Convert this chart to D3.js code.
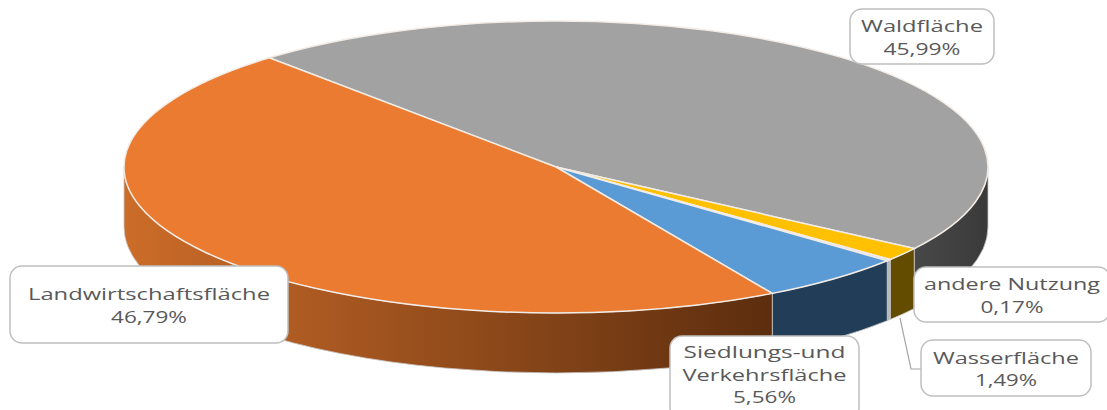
<!DOCTYPE html>
<html>
<head>
<meta charset="utf-8">
<script src="https://cdn.jsdelivr.net/npm/d3@7"></script>
<style>
  html, body { margin: 0; padding: 0; background: #fff; overflow: hidden; }
  text { font-family: "Open Sans", sans-serif; fill: #595959; }
</style>
</head>
<body>
<svg id="viz"></svg>
<script>
const categories = ["Waldfläche", "Wasserfläche", "andere Nutzung", "Siedlungs-und Verkehrsfläche", "Landwirtschaftsfläche"]
const values = [45.99, 1.49, 0.17, 5.56, 46.79]
const valueLabels = ["45,99%", "1,49%", "0,17%", "5,56%", "46,79%"]
const topColors = ["#a2a2a2", "#ffc000", "#c9d3df", "#5b9bd5", "#ea7b30"]
const wallColors = [
  ["#484848", "#3a3a3a"],
  ["#634b00", "#634b00"],
  ["#b4b8bd", "#b4b8bd"],
  ["#223d57", "#223d57"],
  ["#cc6c29", "#5c2d0e"],
]
// label boxes: category index, x, y, width, height, text lines, stretched text widths
const labelBoxes = [
  { i: 0, x: 850, y: 9, w: 144, h: 55, lines: ["Waldfläche"], tw: [122, 77] },
  { i: 4, x: 10, y: 266, w: 278, h: 77, lines: ["Landwirtschaftsfläche"], tw: [242, 76] },
  { i: 2, x: 914, y: 267, w: 196, h: 55, lines: ["andere Nutzung"], tw: [176, 63] },
  { i: 1, x: 921, y: 340, w: 170, h: 56, lines: ["Wasserfläche"], tw: [146, 62] },
  { i: 3, x: 670, y: 336, w: 189, h: 84, lines: ["Siedlungs-und", "Verkehrsfläche"], tw: [162, 164, 63] },
]

const width = 1107
const height = 410
const cx = 556
const cy = 167
const rx = 432
const ry = 146
const depth = 60
const startDeg = 318.4
const rad = (deg) => (deg * Math.PI) / 180

const svg = d3.select("#viz").attr("width", width).attr("height", height).style("display", "block")
const defs = svg.append("defs")

const pie = d3
  .pie()
  .sort(null)
  .startAngle(rad(startDeg))
  .endAngle(rad(startDeg + 360))
const slices = pie(values)

// angle (clockwise from top) to point on the tilted ellipse
const px = (a) => cx + rx * Math.sin(a)
const py = (a) => cy - ry * Math.cos(a)

const wallPath = (a0, a1) => {
  const large = a1 - a0 > Math.PI ? 1 : 0
  return (
    `M${px(a0)},${py(a0)}` +
    `A${rx},${ry} 0 ${large} 1 ${px(a1)},${py(a1)}` +
    `L${px(a1)},${py(a1) + depth}` +
    `A${rx},${ry} 0 ${large} 0 ${px(a0)},${py(a0) + depth}Z`
  )
}

// walls, only the front half (90deg..270deg) can be seen
const walls = svg.append("g")
slices.forEach((s, i) => {
  let a0 = s.startAngle
  let a1 = s.endAngle
  // slices past 360deg wrap round to the front
  if (a1 > 2 * Math.PI) {
    a0 -= 2 * Math.PI
    a1 -= 2 * Math.PI
  }
  const from = Math.max(a0, rad(90))
  const to = Math.min(a1, rad(270))
  if (to <= from) return
  const grad = defs
    .append("linearGradient")
    .attr("id", `wall${i}`)
    .attr("gradientUnits", "userSpaceOnUse")
    .attr("x1", Math.min(px(from), px(to)))
    .attr("x2", Math.max(px(from), px(to)))
    .attr("y1", 0)
    .attr("y2", 0)
  grad.append("stop").attr("offset", 0).attr("stop-color", wallColors[i][0])
  grad.append("stop").attr("offset", 1).attr("stop-color", wallColors[i][1])
  walls
    .append("path")
    .attr("d", wallPath(from, to))
    .attr("fill", `url(#wall${i})`)
    .attr("stroke", "#c9c9c9")
    .attr("stroke-width", 0.8)
})

// top of the pie
const arc = d3.arc().innerRadius(0).outerRadius(rx)
svg
  .append("g")
  .attr("transform", `translate(${cx},${cy}) scale(1,${ry / rx})`)
  .selectAll("path")
  .data(slices)
  .join("path")
  .attr("d", arc)
  .attr("fill", (d, i) => topColors[i])
  .attr("stroke", "#f3ece6")
  .attr("stroke-width", 1.5)
  .attr("vector-effect", "non-scaling-stroke")

// leader for Wasserfläche
svg
  .append("path")
  .attr("d", d3.line()([[900, 318], [911, 369], [921, 369]]))
  .attr("fill", "none")
  .attr("stroke", "#a6a6a6")
  .attr("stroke-width", 1.2)

// labels
const labels = svg
  .selectAll(".label")
  .data(labelBoxes)
  .join("g")
  .attr("class", "label")

labels
  .append("rect")
  .attr("x", (d) => d.x)
  .attr("y", (d) => d.y)
  .attr("width", (d) => d.w)
  .attr("height", (d) => d.h)
  .attr("rx", 12)
  .attr("fill", "#fff")
  .attr("stroke", "#bfbfbf")
  .attr("stroke-width", 1.5)

labels.each(function (d) {
  const g = d3.select(this)
  const lines = d.lines.concat(valueLabels[d.i])
  const lineGap = 22.5
  const mid = d.y + Math.min(d.h, d.lines.length === 2 ? 75 : d.h) / 2
  const top = mid - ((lines.length - 1) * lineGap) / 2
  lines.forEach((t, k) => {
    g.append("text")
      .attr("x", d.x + d.w / 2)
      .attr("y", top + k * lineGap + 7)
      .attr("text-anchor", "middle")
      .attr("font-size", 17)
      .attr("textLength", d.tw[k])
      .attr("lengthAdjust", "spacingAndGlyphs")
      .text(t)
  })
})
</script>
</body>
</html>
